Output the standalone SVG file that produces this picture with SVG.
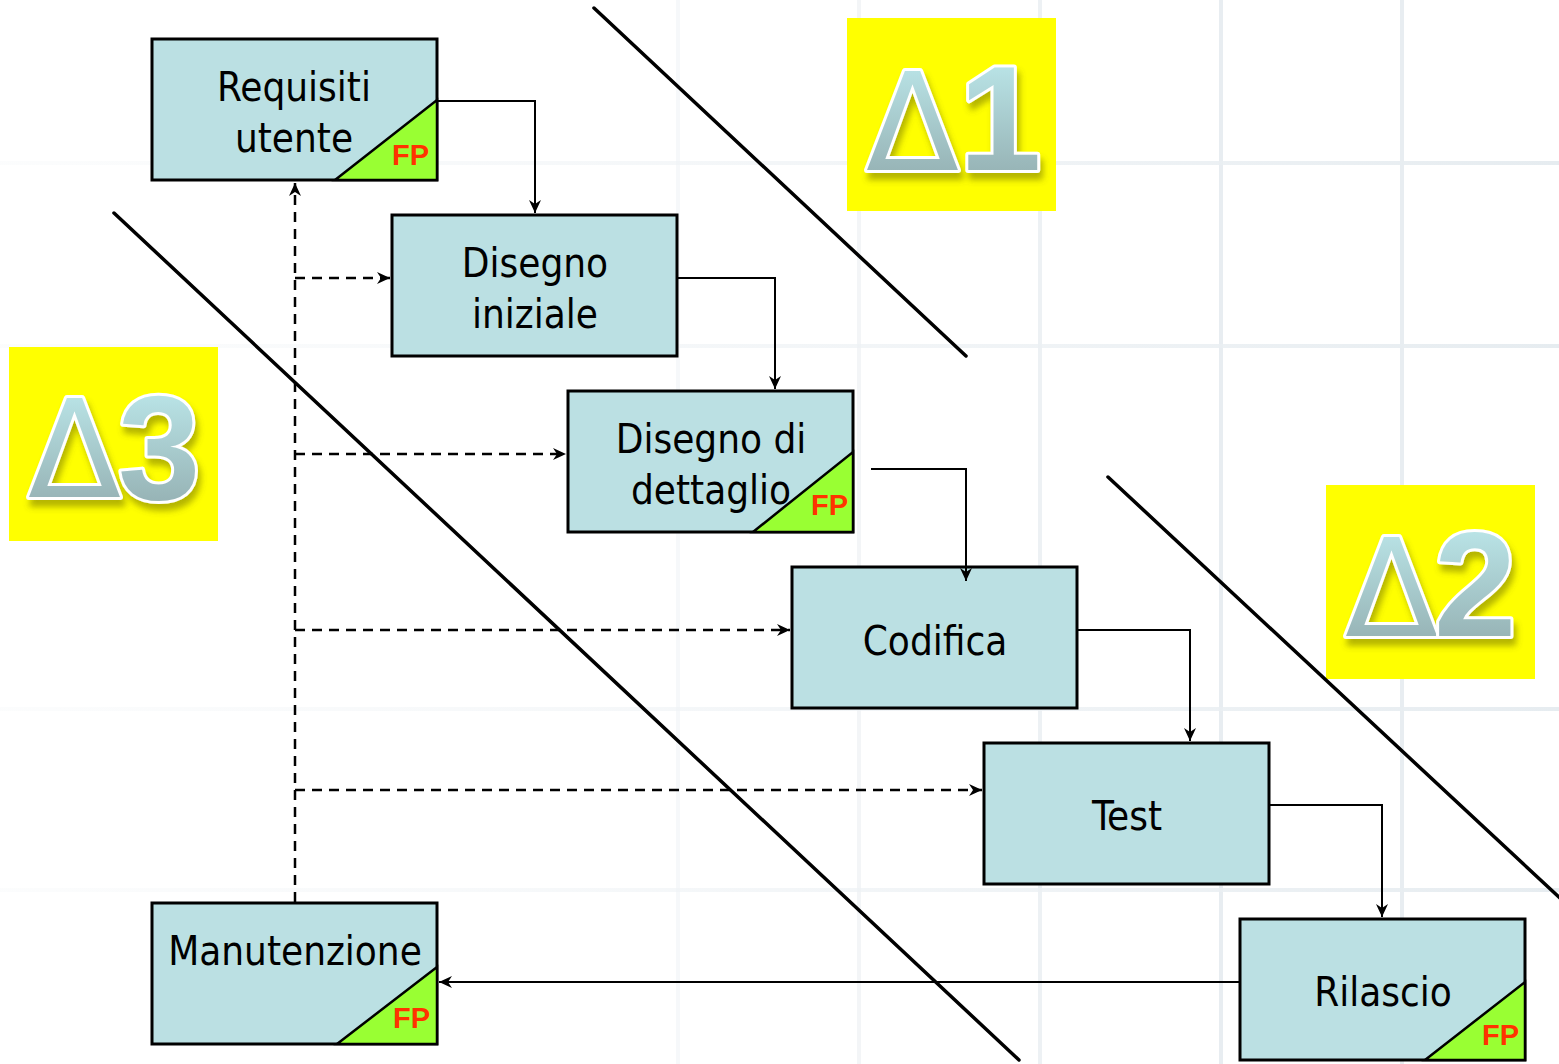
<svg xmlns="http://www.w3.org/2000/svg" width="1559" height="1064" viewBox="0 0 1559 1064">
<defs>
<style>
.box{fill:#bbe0e3;stroke:#000;stroke-width:3}
.fp{fill:#99ff33;stroke:#000;stroke-width:2.5;stroke-linejoin:miter}
.lbl{font-family:"DejaVu Sans Condensed","DejaVu Sans",sans-serif;font-size:40px;fill:#000;text-anchor:middle}
.fpt{font-family:"Liberation Sans",Arial,sans-serif;font-weight:bold;font-size:29px;fill:#ff3300;text-anchor:end}
.solid{fill:none;stroke:#000;stroke-width:2}
.dash{fill:none;stroke:#000;stroke-width:2.5;stroke-dasharray:10 7}
.diag{stroke:#000;stroke-width:3.5;stroke-linecap:round}
.ybox{fill:#ffff00}
.delta{font-family:"Liberation Sans",Arial,sans-serif;font-size:148px;fill:url(#dg);stroke:#fff;stroke-width:6;stroke-linejoin:round;paint-order:stroke;filter:url(#sh)}
.dsym{font-family:"DejaVu Sans",sans-serif;font-size:136px;font-weight:normal}
.dnum{font-weight:bold}
.gv{stroke:#e8edf1;stroke-width:4}
.gh{stroke:url(#gfade);stroke-width:4}
</style>
<linearGradient id="dg" x1="0" y1="0" x2="0" y2="1">
<stop offset="0" stop-color="#c2f0f3"/>
<stop offset="1" stop-color="#8ea7a9"/>
</linearGradient>
<linearGradient id="gfade" gradientUnits="userSpaceOnUse" x1="0" y1="0" x2="1559" y2="0">
<stop offset="0" stop-color="#f3f6f8" stop-opacity="0.3"/>
<stop offset="0.5" stop-color="#eef2f5" stop-opacity="0.7"/>
<stop offset="1" stop-color="#e6ecf0"/>
</linearGradient>
<filter id="sh" x="-20%" y="-20%" width="140%" height="140%">
<feDropShadow dx="3" dy="7" stdDeviation="3" flood-color="#5a5a00" flood-opacity="0.45"/>
</filter>
<marker id="ah" markerUnits="userSpaceOnUse" markerWidth="14" markerHeight="12" refX="13" refY="6" orient="auto">
<path d="M0,0 L13,6 L0,12 L4,6 z" fill="#000"/>
</marker>
</defs>
<rect width="1559" height="1064" fill="#fff"/>
<g id="grid">
<line class="gv" x1="678" y1="0" x2="678" y2="1064" opacity="0.35"/>
<line class="gv" x1="859" y1="0" x2="859" y2="1064" opacity="0.5"/>
<line class="gv" x1="1040" y1="0" x2="1040" y2="1064" opacity="0.75"/>
<line class="gv" x1="1221" y1="0" x2="1221" y2="1064"/>
<line class="gv" x1="1402" y1="0" x2="1402" y2="1064"/>
<line class="gh" x1="0" y1="163" x2="1559" y2="163"/>
<line class="gh" x1="0" y1="346" x2="1559" y2="346"/>
<line class="gh" x1="0" y1="709" x2="1559" y2="709"/>
<line class="gh" x1="0" y1="890" x2="1559" y2="890"/>
</g>
<g id="deltas">
<g id="delta1">
<rect class="ybox" x="847" y="18" width="209" height="193"/>
<text class="delta" x="866" y="170"><tspan class="dsym">Δ</tspan><tspan class="dnum" dx="0">1</tspan></text>
</g>
<g id="delta3">
<rect class="ybox" x="9" y="347" width="209" height="194"/>
<text class="delta" x="28" y="497"><tspan class="dsym">Δ</tspan><tspan class="dnum" dx="-3" dy="2">3</tspan></text>
</g>
<g id="delta2">
<rect class="ybox" x="1326" y="485" width="209" height="194"/>
<text class="delta" x="1345" y="636"><tspan class="dsym">Δ</tspan><tspan class="dnum" dx="-4">2</tspan></text>
</g>
</g>
<g id="dividers">
<line class="diag" x1="594" y1="8" x2="966" y2="356"/>
<line class="diag" x1="114" y1="213" x2="1019" y2="1060"/>
<line class="diag" x1="1108" y1="477" x2="1562" y2="900"/>
</g>
<g id="requisiti">
<rect class="box" x="152" y="39" width="285" height="141"/>
<polygon class="fp" points="335,180 437,100 437,180"/>
<text class="lbl" x="294" y="101">Requisiti</text>
<text class="lbl" x="294" y="152">utente</text>
<text class="fpt" x="429" y="165">FP</text>
</g>
<g id="disegno-iniziale">
<rect class="box" x="392" y="215" width="285" height="141"/>
<text class="lbl" x="535" y="277">Disegno</text>
<text class="lbl" x="535" y="328">iniziale</text>
</g>
<g id="disegno-dettaglio">
<rect class="box" x="568" y="391" width="285" height="141"/>
<polygon class="fp" points="753,532 853,452 853,532"/>
<text class="lbl" x="711" y="453">Disegno di</text>
<text class="lbl" x="711" y="504">dettaglio</text>
<text class="fpt" x="848" y="515">FP</text>
</g>
<g id="codifica">
<rect class="box" x="792" y="567" width="285" height="141"/>
<text class="lbl" x="935" y="655">Codifica</text>
</g>
<g id="test">
<rect class="box" x="984" y="743" width="285" height="141"/>
<text class="lbl" x="1127" y="830">Test</text>
</g>
<g id="rilascio">
<rect class="box" x="1240" y="919" width="285" height="141"/>
<polygon class="fp" points="1425,1060 1525,982 1525,1060"/>
<text class="lbl" x="1383" y="1006">Rilascio</text>
<text class="fpt" x="1519" y="1045">FP</text>
</g>
<g id="manutenzione">
<rect class="box" x="152" y="903" width="285" height="141"/>
<polygon class="fp" points="337,1044 437,967 437,1044"/>
<text class="lbl" x="295" y="965">Manutenzione</text>
<text class="fpt" x="430" y="1028">FP</text>
</g>
<g id="connectors">
<polyline class="solid" points="437,101 535,101 535,213" marker-end="url(#ah)"/>
<polyline class="solid" points="677,278 775,278 775,389" marker-end="url(#ah)"/>
<polyline class="solid" points="871,469 966,469 966,581" marker-end="url(#ah)"/>
<polyline class="solid" points="1077,630 1190,630 1190,741" marker-end="url(#ah)"/>
<polyline class="solid" points="1269,805 1382,805 1382,917" marker-end="url(#ah)"/>
<polyline class="solid" points="1240,982 439,982" marker-end="url(#ah)"/>
<line class="dash" x1="295" y1="902" x2="295" y2="183" marker-end="url(#ah)"/>
<line class="dash" x1="295" y1="278" x2="390" y2="278" marker-end="url(#ah)"/>
<line class="dash" x1="295" y1="454" x2="566" y2="454" marker-end="url(#ah)"/>
<line class="dash" x1="295" y1="630" x2="790" y2="630" marker-end="url(#ah)"/>
<line class="dash" x1="295" y1="790" x2="982" y2="790" marker-end="url(#ah)"/>
</g>
</svg>
